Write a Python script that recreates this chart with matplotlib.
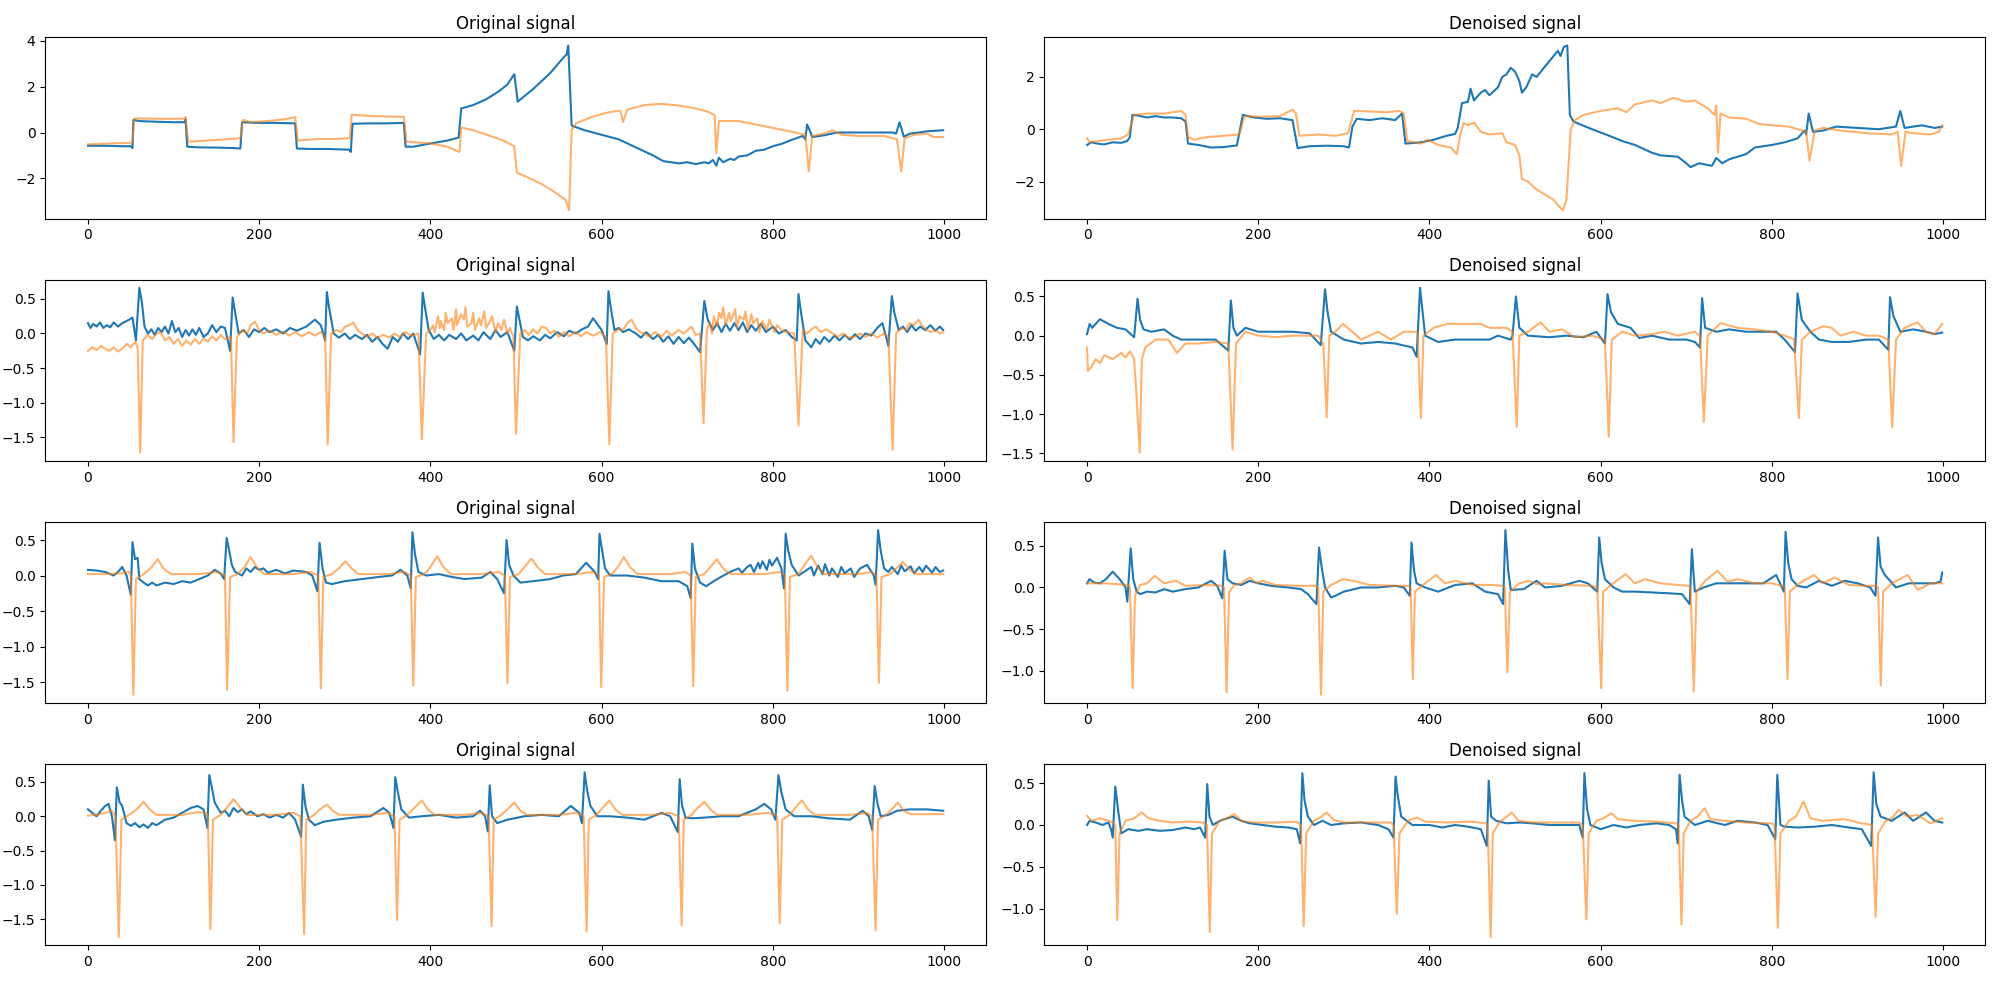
import matplotlib.pyplot as plt

# waypoints (x, y), one list per trace
orig1_blue = [(0,-0.58),(20,-0.58),(40,-0.6),(50,-0.6),(52,-0.68),(53,0.55),(60,0.5),(80,0.47),(100,0.45),(113,0.45),(114,0.58),(116,-0.62),(130,-0.65),(150,-0.66),(170,-0.68),(178,-0.7),(180,0.45),(200,0.42),(220,0.42),(242,0.4),(244,-0.7),(260,-0.72),(280,-0.72),(305,-0.75),(307,-0.85),(309,0.38),(330,0.4),(350,0.4),(369,0.42),(371,-0.62),(380,-0.62),(400,-0.48),(420,-0.35),(433,-0.22),(436,1.05),(450,1.2),(465,1.45),(480,1.8),(490,2.1),(498,2.55),(502,1.35),(520,1.9),(540,2.6),(556,3.3),(559,3.4),(561,3.8),(565,0.3),(580,0.1),(600,-0.1),(620,-0.3),(640,-0.65),(660,-1.0),(672,-1.25),(690,-1.35),(700,-1.3),(710,-1.38),(720,-1.3),(725,-1.35),(730,-1.2),(734,-1.45),(737,-1.1),(742,-1.3),(750,-1.15),(755,-1.2),(760,-1.05),(770,-1.0),(780,-0.8),(790,-0.75),(800,-0.6),(810,-0.5),(820,-0.35),(835,-0.15),(838,-0.3),(840,0.35),(843,0.1),(846,-0.2),(860,-0.12),(875,0.0),(900,0.0),(920,0.0),(940,0.0),(944,-0.05),(948,0.45),(950,0.2),(953,-0.18),(960,-0.05),(980,0.05),(999,0.1)]
orig1_orange = [(0,-0.52),(25,-0.48),(50,-0.45),(52,-0.42),(54,0.62),(80,0.6),(112,0.6),(114,0.68),(117,-0.4),(140,-0.35),(160,-0.3),(178,-0.25),(181,0.55),(190,0.45),(210,0.5),(230,0.58),(242,0.67),(245,-0.35),(270,-0.28),(290,-0.28),(306,-0.25),(308,0.78),(330,0.72),(350,0.7),(369,0.68),(372,-0.4),(400,-0.48),(420,-0.62),(434,-0.85),(436,0.22),(450,0.1),(470,-0.15),(485,-0.35),(498,-0.6),(501,-1.75),(510,-1.9),(530,-2.25),(545,-2.6),(558,-2.95),(562,-3.4),(565,0.1),(570,0.4),(590,0.7),(610,0.9),(622,0.95),(625,0.45),(630,1.0),(650,1.2),(670,1.25),(690,1.18),(710,1.05),(725,0.9),(732,0.75),(734,-0.9),(737,0.5),(760,0.5),(780,0.35),(800,0.2),(820,0.05),(838,-0.1),(842,-1.7),(846,-0.15),(860,-0.05),(870,0.1),(880,-0.1),(900,-0.15),(930,-0.15),(945,-0.3),(950,-1.7),(954,-0.25),(965,-0.1),(980,-0.05),(988,-0.2),(999,-0.2)]

den1_blue = [(0,-0.6),(5,-0.5),(12,-0.55),(20,-0.58),(30,-0.5),(40,-0.52),(47,-0.45),(50,-0.3),(53,0.55),(60,0.52),(70,0.45),(80,0.5),(90,0.45),(100,0.45),(110,0.42),(115,0.3),(118,-0.55),(130,-0.6),(145,-0.7),(160,-0.68),(175,-0.62),(182,0.55),(195,0.45),(210,0.4),(225,0.42),(240,0.35),(246,-0.72),(260,-0.65),(280,-0.63),(300,-0.65),(306,-0.7),(310,0.1),(315,0.4),(330,0.35),(345,0.42),(360,0.35),(368,0.6),(372,-0.55),(390,-0.5),(405,-0.4),(420,-0.25),(430,-0.18),(433,0.05),(438,1.0),(445,1.05),(448,1.55),(452,1.1),(460,1.4),(465,1.5),(470,1.3),(480,1.6),(485,2.0),(490,2.1),(495,2.35),(500,2.2),(505,1.85),(508,1.4),(513,1.6),(520,2.1),(525,2.0),(535,2.4),(545,2.8),(550,3.0),(553,2.8),(557,3.15),(561,3.2),(564,0.55),(568,0.3),(575,0.2),(590,0.0),(610,-0.25),(625,-0.45),(640,-0.6),(660,-0.9),(670,-1.0),(690,-1.05),(700,-1.3),(705,-1.45),(715,-1.3),(730,-1.4),(735,-1.1),(742,-1.3),(750,-1.15),(770,-0.95),(780,-0.7),(800,-0.6),(815,-0.5),(830,-0.35),(838,-0.05),(840,-0.2),(843,0.6),(848,-0.1),(860,-0.05),(875,0.1),(900,0.05),(925,0.0),(945,0.1),(950,0.7),(955,0.05),(965,0.1),(975,0.15),(990,0.05),(999,0.1)]
den1_orange = [(0,-0.35),(3,-0.5),(20,-0.42),(40,-0.35),(48,-0.2),(55,0.55),(70,0.6),(90,0.6),(110,0.7),(115,0.55),(118,-0.3),(125,-0.4),(140,-0.3),(160,-0.25),(178,-0.2),(184,0.5),(200,0.48),(225,0.5),(240,0.75),(244,0.6),(248,-0.25),(270,-0.2),(290,-0.25),(305,-0.15),(312,0.7),(330,0.68),(350,0.65),(365,0.7),(370,0.6),(374,-0.45),(390,-0.55),(398,-0.4),(410,-0.6),(425,-0.7),(432,-0.95),(436,-0.2),(440,0.25),(445,0.15),(452,0.25),(460,-0.1),(470,-0.2),(485,-0.15),(490,-0.5),(500,-0.6),(505,-1.0),(508,-1.9),(515,-2.0),(525,-2.3),(535,-2.5),(545,-2.7),(550,-2.9),(556,-3.1),(560,-2.7),(565,0.0),(570,0.35),(580,0.55),(600,0.7),(620,0.8),(630,0.65),(640,0.95),(660,1.1),(670,1.0),(685,1.2),(700,1.05),(710,1.1),(725,0.8),(733,0.55),(735,0.9),(737,-0.9),(740,0.6),(750,0.45),(770,0.4),(785,0.2),(800,0.15),(820,0.1),(830,0.0),(840,-0.1),(844,-1.2),(850,-0.05),(860,0.05),(880,-0.05),(910,-0.15),(940,-0.2),(947,-0.1),(951,-1.4),(956,-0.1),(965,-0.15),(985,-0.2),(995,-0.1),(999,0.15)]

orig2_blue = [(0,0.15),(3,0.08),(6,0.14),(10,0.1),(14,0.16),(18,0.08),(22,0.12),(26,0.09),(30,0.16),(35,0.1),(40,0.15),(45,0.18),(48,0.2),(52,0.23),(56,-0.1),(60,0.66),(63,0.45),(66,0.1),(70,0.0),(74,0.06),(78,-0.02),(82,0.08),(86,0.02),(90,0.1),(94,0.0),(98,0.18),(102,0.02),(106,0.08),(110,-0.05),(114,0.05),(118,-0.03),(122,0.06),(126,-0.02),(130,0.08),(135,-0.05),(140,0.0),(145,0.12),(150,0.02),(155,0.1),(160,0.08),(166,-0.25),(169,0.52),(172,0.3),(176,0.0),(182,0.05),(188,-0.05),(194,0.06),(200,0.02),(206,0.08),(212,0.02),(220,0.06),(228,0.0),(236,0.08),(244,0.04),(255,0.1),(265,0.2),(272,0.12),(277,-0.1),(279,0.6),(282,0.35),(287,0.0),(293,-0.06),(300,0.0),(306,-0.08),(312,-0.02),(320,-0.08),(326,-0.02),(332,-0.12),(338,-0.05),(344,-0.15),(350,-0.22),(356,-0.05),(362,-0.12),(368,0.0),(374,-0.08),(380,0.0),(388,-0.3),(391,0.59),(394,0.35),(398,0.05),(404,-0.08),(410,-0.02),(416,-0.1),(422,-0.02),(430,-0.08),(436,0.0),(442,-0.1),(450,-0.03),(456,-0.1),(462,0.02),(470,-0.08),(476,0.05),(482,-0.05),(490,0.02),(498,-0.25),(501,0.39),(504,0.2),(508,-0.05),(514,-0.1),(520,-0.04),(528,-0.1),(534,-0.02),(540,-0.07),(548,0.02),(556,-0.04),(562,0.04),(570,0.0),(577,0.06),(584,0.1),(590,0.22),(600,0.05),(606,-0.15),(608,0.61),(611,0.35),(615,0.05),(620,0.08),(625,0.02),(632,0.06),(640,0.0),(646,-0.06),(652,0.02),(660,-0.08),(666,-0.02),(672,-0.12),(678,-0.04),(684,-0.15),(690,-0.05),(696,-0.14),(702,-0.06),(708,-0.15),(715,-0.27),(720,0.47),(724,0.2),(730,0.05),(735,0.15),(740,0.02),(745,0.14),(750,0.04),(755,0.15),(760,0.05),(765,0.16),(770,0.02),(775,0.12),(780,0.04),(786,0.14),(792,0.02),(800,0.1),(807,0.0),(815,0.05),(822,-0.05),(828,-0.1),(830,0.57),(833,0.3),(838,-0.1),(845,-0.2),(850,-0.08),(855,-0.15),(860,-0.05),(866,-0.12),(872,-0.03),(878,-0.1),(884,-0.02),(890,-0.09),(896,-0.01),(902,-0.08),(908,0.0),(915,-0.03),(922,0.08),(928,0.15),(935,-0.18),(939,0.54),(942,0.3),(947,0.05),(952,0.1),(957,0.02),(962,0.12),(967,0.04),(972,0.1),(978,0.05),(984,0.12),(990,0.04),(995,0.1),(999,0.05)]
orig2_orange = [(0,-0.25),(5,-0.2),(10,-0.24),(15,-0.18),(20,-0.22),(25,-0.25),(30,-0.2),(35,-0.26),(40,-0.22),(45,-0.15),(50,-0.2),(55,-0.12),(58,-0.2),(61,-1.72),(64,-0.1),(70,-0.02),(75,-0.08),(80,0.0),(85,0.02),(90,-0.1),(95,-0.05),(100,-0.15),(105,-0.08),(110,-0.18),(115,-0.1),(120,-0.16),(125,-0.08),(130,-0.15),(135,-0.07),(140,-0.12),(145,-0.04),(150,-0.1),(155,-0.02),(160,-0.08),(167,-0.05),(170,-1.57),(174,-0.05),(180,0.05),(186,0.0),(190,0.12),(195,0.17),(200,0.05),(205,0.0),(212,0.04),(220,-0.02),(228,0.03),(235,-0.03),(242,0.02),(250,-0.04),(258,0.02),(265,-0.03),(272,0.02),(277,-0.05),(280,-1.6),(284,0.0),(290,0.05),(296,0.02),(300,0.1),(305,0.12),(310,0.16),(315,0.05),(320,0.0),(326,-0.05),(332,0.0),(338,-0.06),(345,-0.02),(352,-0.06),(358,0.0),(364,-0.05),(370,0.02),(378,-0.03),(386,0.0),(390,-1.53),(395,0.0),(400,0.05),(403,0.12),(405,0.02),(409,0.25),(411,0.08),(412,0.18),(416,0.05),(418,0.3),(420,0.15),(425,0.22),(427,0.05),(430,0.35),(431,0.12),(436,0.28),(439,0.2),(441,0.38),(443,0.1),(448,0.15),(450,0.3),(452,0.05),(457,0.22),(459,0.12),(463,0.32),(465,0.08),(470,0.18),(472,0.25),(476,0.02),(479,0.15),(483,0.05),(486,0.2),(490,0.0),(493,0.08),(497,-0.05),(500,-1.45),(505,0.0),(510,0.05),(515,-0.02),(520,0.06),(525,0.0),(530,0.1),(535,0.08),(540,0.0),(545,0.04),(550,-0.05),(556,0.02),(562,-0.04),(570,0.02),(576,-0.04),(582,0.02),(590,-0.03),(598,0.02),(605,-0.05),(609,-1.6),(613,0.0),(620,0.06),(625,0.05),(630,0.15),(635,0.2),(640,0.08),(645,0.02),(650,0.0),(656,-0.05),(662,0.02),(670,-0.05),(676,0.04),(682,-0.03),(690,0.05),(696,0.0),(705,0.1),(710,-0.02),(715,0.0),(719,-1.3),(723,0.05),(726,0.15),(729,0.0),(731,0.25),(735,0.1),(737,0.3),(740,0.22),(742,0.38),(745,0.12),(749,0.3),(751,0.18),(756,0.35),(758,0.08),(761,0.25),(766,0.2),(768,0.32),(771,0.05),(775,0.28),(777,0.15),(782,0.22),(784,0.02),(788,0.18),(793,0.05),(796,0.2),(802,0.02),(805,0.12),(810,0.05),(817,0.02),(825,0.0),(830,-1.33),(835,0.05),(840,0.0),(845,0.06),(850,0.1),(856,0.02),(862,0.06),(870,0.0),(876,-0.05),(882,0.0),(888,-0.06),(895,-0.05),(902,0.0),(908,-0.05),(915,0.0),(922,-0.06),(930,0.0),(935,-0.05),(940,-1.68),(944,0.0),(950,0.08),(955,0.05),(960,0.15),(965,0.12),(970,0.2),(975,0.1),(980,0.05),(985,0.02),(990,0.05),(995,0.0),(999,0.02)]

den2_blue = [(0,0.02),(3,0.15),(6,0.1),(15,0.21),(25,0.15),(35,0.1),(45,0.08),(55,-0.02),(59,0.47),(62,0.2),(66,0.08),(75,0.05),(90,0.08),(100,0.0),(110,-0.05),(130,-0.05),(150,-0.05),(165,-0.19),(168,0.45),(171,0.1),(175,0.0),(185,0.1),(200,0.05),(220,0.05),(240,0.05),(260,0.03),(273,-0.12),(278,0.59),(281,0.3),(285,0.05),(300,-0.05),(320,-0.1),(340,-0.08),(360,-0.1),(380,-0.15),(385,-0.27),(389,0.61),(392,0.3),(395,0.0),(410,-0.08),(430,-0.05),(450,-0.05),(470,-0.05),(480,0.0),(495,-0.05),(497,0.0),(501,0.5),(505,0.1),(515,0.0),(540,-0.02),(560,0.0),(580,-0.02),(595,0.05),(605,-0.1),(608,0.53),(612,0.3),(620,0.15),(635,0.1),(645,-0.03),(660,0.0),(680,-0.05),(700,-0.05),(710,-0.08),(716,-0.15),(718.5,0.48),(722,0.1),(735,0.05),(750,0.08),(770,0.05),(790,0.05),(805,0.05),(815,-0.05),(827,-0.21),(830,0.54),(835,0.2),(845,0.05),(855,-0.05),(870,-0.08),(890,-0.08),(910,-0.05),(925,-0.05),(936,-0.18),(938,0.49),(942,0.25),(950,0.05),(965,0.08),(980,0.05),(990,0.02),(999,0.04)]
den2_orange = [(0,-0.15),(1,-0.45),(5,-0.4),(10,-0.3),(15,-0.35),(20,-0.25),(30,-0.3),(40,-0.22),(45,-0.28),(50,-0.2),(55,-0.3),(58,-0.8),(61.5,-1.49),(64,-0.3),(68,-0.15),(80,-0.05),(95,-0.05),(105,-0.22),(115,-0.1),(130,-0.1),(150,-0.08),(165,-0.1),(170,-1.45),(174,-0.1),(185,0.05),(200,0.0),(220,-0.02),(240,0.0),(270,0.0),(276,-0.1),(280,-1.04),(283,0.0),(290,0.05),(299,0.15),(310,0.05),(320,-0.05),(340,0.05),(355,-0.05),(370,0.05),(386,0.05),(390,-1.05),(393,0.0),(405,0.1),(420,0.15),(440,0.15),(460,0.15),(470,0.1),(490,0.1),(497,0.05),(502,-1.16),(505,0.0),(515,0.05),(530,0.17),(540,0.05),(555,0.08),(570,-0.02),(590,0.0),(605,-0.05),(609.5,-1.29),(613,-0.05),(625,0.05),(640,0.0),(660,0.02),(675,0.05),(690,0.0),(710,0.05),(716,0.0),(720.5,-1.1),(725,0.0),(740,0.16),(760,0.1),(780,0.08),(800,0.05),(815,0.0),(826,-0.05),(831.5,-1.05),(835,-0.05),(845,0.05),(860,0.12),(870,0.1),(880,0.0),(895,0.05),(910,0.0),(925,0.0),(936,-0.05),(940.5,-1.17),(945,-0.05),(955,0.1),(970,0.17),(980,0.05),(990,0.02),(999,0.15)]

orig3_blue = [(0,0.08),(10,0.07),(20,0.05),(30,0.0),(35,0.05),(40,0.12),(45,0.0),(50,-0.27),(52,0.47),(55,0.23),(58,0.25),(60,-0.05),(65,-0.1),(70,-0.14),(75,-0.1),(80,-0.14),(90,-0.1),(100,-0.12),(110,-0.08),(120,-0.1),(130,-0.05),(140,0.0),(148,0.08),(155,0.03),(159,-0.05),(162,0.53),(165,0.35),(168,0.15),(172,0.05),(180,0.0),(185,0.1),(190,0.05),(195,0.12),(200,0.08),(205,0.1),(210,0.04),(220,0.08),(230,0.03),(240,0.07),(255,0.05),(262,0.0),(268,-0.22),(270.5,0.46),(274,0.1),(278,-0.1),(285,-0.12),(300,-0.08),(320,-0.05),(340,-0.02),(355,0.0),(365,0.08),(373,0.0),(377,-0.18),(379,0.61),(382,0.3),(386,0.05),(395,0.0),(410,0.02),(425,-0.02),(440,-0.05),(460,-0.03),(470,0.05),(478,-0.05),(486,-0.25),(489,0.5),(492,0.15),(497,0.0),(505,-0.1),(520,-0.08),(540,-0.05),(555,0.0),(570,0.02),(582,0.18),(592,0.05),(596,-0.05),(597.5,0.59),(601,0.33),(604,0.1),(610,0.0),(630,0.0),(650,-0.03),(670,-0.08),(690,-0.08),(700,-0.15),(704,-0.32),(706,0.45),(709,0.1),(715,-0.1),(722,-0.15),(735,-0.05),(750,0.05),(760,0.1),(764,0.04),(770,0.12),(774,0.15),(778,0.05),(783,0.18),(785,0.1),(788,0.2),(793,0.08),(796,0.22),(799,0.14),(805,0.25),(810,0.1),(813,-0.18),(815,0.59),(818,0.35),(822,0.15),(830,0.0),(840,0.08),(845,0.12),(848,0.0),(853,0.14),(858,0.02),(861,0.16),(866,0.0),(869,0.1),(876,-0.02),(880,0.12),(884,0.03),(891,0.1),(895,-0.02),(902,0.1),(910,0.15),(918,0.0),(920,-0.13),(923,0.64),(926,0.35),(930,0.1),(935,0.05),(939,0.12),(946,0.02),(950,0.14),(954,0.06),(961,0.13),(965,0.03),(971,0.12),(975,0.05),(979,0.14),(986,0.04),(990,0.12),(995,0.05),(999,0.07)]
orig3_orange = [(0,0.02),(20,0.02),(40,0.03),(48,0.05),(50,0.0),(53,-1.68),(56,-0.05),(65,0.02),(73,0.1),(81.5,0.23),(88,0.1),(97,0.02),(130,0.02),(150,0.05),(160,0.0),(162.5,-1.61),(166,-0.02),(175,0.02),(183,0.12),(190,0.26),(197,0.12),(206,0.02),(240,0.02),(260,0.05),(269,0.0),(272,-1.59),(275,-0.02),(285,0.02),(293,0.1),(300.5,0.2),(308,0.1),(316,0.02),(350,0.02),(370,0.05),(377,0.0),(380,-1.55),(383,-0.02),(393,0.02),(400,0.12),(408,0.27),(415,0.12),(424,0.02),(460,0.02),(480,0.05),(487,0.0),(490,-1.52),(493,-0.02),(503,0.02),(510,0.12),(518,0.24),(525,0.12),(534,0.02),(570,0.02),(590,0.05),(597,0.0),(599.5,-1.57),(603,-0.02),(612,0.02),(619,0.12),(626,0.26),(633,0.12),(642,0.02),(680,0.02),(698,0.05),(704,0.0),(707,-1.56),(710,-0.02),(720,0.02),(727,0.12),(734.5,0.23),(742,0.1),(750,0.02),(790,0.02),(808,0.05),(814,0.0),(817,-1.62),(820,-0.02),(830,0.02),(837,0.15),(845,0.28),(852,0.12),(860,0.02),(900,0.02),(915,0.05),(921,0.0),(924,-1.51),(927,-0.02),(937,0.02),(944,0.1),(952,0.19),(960,0.08),(968,0.02),(999,0.02)]

den3_blue = [(0,0.05),(3,0.1),(8,0.06),(15,0.05),(22,0.1),(30,0.19),(38,0.1),(45,0.0),(47,-0.17),(51,0.47),(54,0.1),(58,-0.05),(62,-0.08),(70,-0.05),(80,-0.06),(90,-0.02),(100,-0.05),(115,-0.02),(130,0.0),(145,0.08),(152,0.02),(158,-0.13),(160.7,0.44),(164,0.1),(170,0.05),(180,0.03),(190,0.08),(200,0.05),(215,0.02),(235,0.0),(250,-0.02),(258,-0.08),(268,-0.2),(271,0.48),(274,0.25),(278,0.0),(285,-0.12),(290,-0.1),(300,-0.05),(320,0.0),(340,0.0),(360,0.02),(370,0.0),(377,-0.1),(379,0.54),(382,0.2),(385,0.05),(395,0.0),(410,-0.05),(430,0.03),(450,0.05),(465,-0.05),(480,-0.08),(486,-0.2),(488.7,0.69),(492,0.2),(495,-0.03),(510,-0.02),(525,0.08),(535,0.0),(555,0.02),(575,0.08),(585,0.05),(596,-0.05),(598.3,0.6),(601,0.3),(605,0.1),(615,0.0),(625,-0.05),(640,-0.05),(660,-0.06),(680,-0.07),(695,-0.08),(704,-0.2),(706.5,0.46),(710,-0.05),(720,0.0),(735,0.05),(750,0.05),(770,0.05),(790,0.05),(805,0.15),(814,-0.05),(816,0.67),(819,0.3),(823,0.1),(830,0.02),(840,0.0),(855,0.08),(870,0.02),(885,0.08),(900,0.05),(915,0.0),(921,-0.1),(924,0.6),(927,0.25),(932,0.15),(945,0.0),(960,0.05),(975,0.05),(990,0.05),(997,0.07),(999,0.18)]
den3_orange = [(0,0.05),(10,0.05),(20,0.05),(35,0.04),(48,0.03),(50,0.0),(53.3,-1.21),(56,-0.1),(62,0.03),(70,0.05),(79,0.14),(90,0.05),(104,0.08),(115,0.02),(140,0.03),(158,0.02),(160,0.0),(163,-1.26),(166,-0.05),(172,0.03),(180,0.05),(190,0.12),(198,0.05),(205,0.08),(220,0.03),(250,0.02),(268,0.02),(270,0.0),(273.3,-1.29),(276,-0.05),(285,0.03),(299,0.1),(311,0.08),(330,0.03),(360,0.02),(376,0.02),(378,0.0),(380.6,-1.1),(383,-0.05),(395,0.05),(407.6,0.15),(418,0.05),(430,0.08),(450,0.03),(475,0.03),(485,0.02),(488,0.0),(491,-1.02),(494,-0.05),(505,0.05),(516.5,0.08),(525,0.04),(535,0.05),(560,0.03),(590,0.02),(596,0.0),(600.6,-1.21),(603,-0.05),(612,0.03),(629,0.16),(640,0.05),(652,0.1),(670,0.05),(690,0.03),(703,0.02),(705,0.0),(708.7,-1.25),(712,-0.05),(722,0.08),(736.5,0.2),(748,0.07),(760,0.1),(780,0.05),(800,0.05),(812,0.02),(815,0.0),(818.3,-1.1),(821,-0.05),(832,0.05),(849,0.15),(860,0.05),(873,0.12),(890,0.03),(910,0.02),(922,0.02),(924,0.0),(927.2,-1.18),(930,-0.05),(940,0.05),(958.7,0.15),(965,0.05),(970.7,-0.03),(985,0.05),(999,0.05)]

orig4_blue = [(0,0.1),(5,0.05),(10,0.0),(15,0.08),(20,0.15),(24,0.18),(28,0.0),(31.5,-0.35),(33.7,0.42),(37,0.2),(40,0.15),(45,-0.1),(50,-0.14),(55,-0.1),(60,-0.16),(65,-0.12),(70,-0.17),(75,-0.1),(80,-0.13),(90,-0.05),(100,-0.02),(110,0.05),(120,0.12),(128,0.15),(135,0.1),(139.5,-0.17),(141.7,0.6),(145,0.4),(148,0.2),(155,0.05),(160,0.08),(165,0.0),(170,0.12),(175,0.06),(180,0.1),(185,0.03),(190,0.07),(198,0.0),(205,0.03),(212,-0.02),(220,0.02),(228,-0.02),(235,0.05),(242,-0.05),(249,-0.3),(251,0.46),(254,0.15),(258,-0.05),(265,-0.13),(275,-0.08),(290,-0.05),(310,-0.02),(330,0.0),(345,0.12),(352,0.05),(356.8,-0.17),(359,0.57),(362,0.35),(366,0.1),(375,-0.02),(390,0.0),(410,0.02),(430,-0.02),(450,0.0),(458,0.08),(464,0.0),(467,-0.22),(469.3,0.45),(472,0.0),(478,-0.1),(490,-0.05),(510,0.0),(530,0.02),(550,0.0),(564,0.15),(574,0.05),(577,-0.1),(580.2,0.64),(583,0.38),(587,0.15),(595,0.0),(610,0.0),(630,-0.02),(650,-0.05),(670,0.05),(680,0.0),(689,-0.23),(691.2,0.54),(694,0.15),(698,-0.02),(705,-0.03),(720,-0.02),(740,0.0),(760,0.0),(780,0.1),(790,0.18),(798,0.1),(803,-0.05),(806.6,0.6),(810,0.35),(815,0.1),(825,0.0),(845,0.0),(865,-0.03),(890,-0.05),(905,0.08),(912,0.0),(916,-0.2),(919,0.44),(922,0.2),(926,0.0),(935,0.02),(945,0.08),(960,0.1),(980,0.1),(999,0.08)]
orig4_orange = [(0,0.01),(10,0.02),(20,0.05),(28,0.08),(32,0.0),(36,-1.76),(39,-0.05),(48,0.02),(57,0.1),(65,0.21),(72,0.1),(80,0.02),(110,0.02),(128,0.06),(138,0.05),(140,0.0),(143,-1.64),(146,-0.05),(155,0.02),(162,0.12),(170,0.25),(178,0.12),(186,0.02),(220,0.02),(240,0.05),(248,0.0),(252.5,-1.72),(255,-0.05),(264,0.02),(271,0.1),(279,0.17),(286,0.08),(294,0.02),(330,0.02),(350,0.05),(358,0.0),(361,-1.51),(364,-0.05),(373,0.02),(381,0.12),(390,0.23),(397,0.1),(405,0.02),(440,0.02),(460,0.05),(468,0.0),(471.5,-1.6),(474,-0.05),(483,0.02),(490,0.1),(498,0.2),(505,0.08),(513,0.02),(550,0.02),(570,0.05),(579,0.0),(582.5,-1.68),(585,-0.05),(594,0.02),(601,0.12),(609,0.23),(616,0.1),(624,0.02),(660,0.02),(680,0.05),(690,0.0),(693.5,-1.59),(696,-0.05),(705,0.02),(712,0.12),(720,0.21),(727,0.1),(735,0.02),(770,0.02),(795,0.05),(805,0.0),(808,-1.56),(811,-0.05),(820,0.02),(826,0.12),(834,0.23),(841,0.1),(849,0.02),(890,0.02),(910,0.05),(916,0.0),(920,-1.66),(923,-0.05),(932,0.02),(939,0.1),(946,0.2),(953,0.08),(961,0.03),(999,0.03)]

den4_blue = [(0,0.0),(3,0.05),(10,0.03),(18,0.0),(25,0.03),(28,-0.05),(30,-0.15),(33,0.46),(36,0.2),(40,-0.1),(48,-0.05),(60,-0.07),(70,-0.05),(85,-0.07),(100,-0.06),(115,-0.03),(125,-0.05),(132,-0.03),(138,-0.15),(140.4,0.49),(143,0.1),(147,0.0),(155,0.05),(170,0.1),(180,0.05),(190,0.02),(205,0.0),(220,-0.02),(235,-0.03),(245,-0.05),(249,-0.22),(251.5,0.62),(254,0.3),(258,0.1),(265,0.0),(275,0.05),(285,0.0),(300,0.02),(320,0.03),(340,0.0),(352,-0.05),(358,-0.15),(360.4,0.58),(363,0.35),(367,0.1),(380,0.0),(400,0.0),(415,-0.03),(430,0.0),(445,-0.02),(460,-0.05),(467,-0.25),(469.2,0.53),(472,0.1),(478,0.05),(490,0.02),(505,0.03),(520,0.02),(540,0.0),(560,0.0),(575,0.0),(579,-0.15),(581,0.62),(584,0.2),(588,0.0),(600,-0.05),(615,0.0),(630,-0.03),(645,0.0),(665,0.02),(680,0.0),(688,-0.05),(690,-0.22),(692.2,0.6),(695,0.3),(698,0.1),(710,0.0),(725,0.05),(745,0.0),(760,0.05),(780,0.03),(795,0.0),(804,-0.17),(806.3,0.6),(810,0.0),(815,-0.02),(830,-0.03),(850,-0.02),(870,0.0),(890,-0.03),(905,-0.05),(916,-0.25),(918.9,0.63),(922,0.25),(927,0.1),(940,0.05),(955,0.15),(965,0.05),(980,0.15),(990,0.05),(999,0.03)]
den4_orange = [(0,0.11),(5,0.05),(15,0.08),(25,0.05),(31,0.03),(33,0.0),(35.3,-1.14),(38,-0.1),(45,0.05),(55,0.08),(63.8,0.15),(72,0.08),(85,0.05),(100,0.03),(120,0.04),(135,0.03),(140,0.0),(143.4,-1.28),(146,-0.1),(155,0.05),(163,0.08),(172,0.13),(180,0.05),(195,0.03),(220,0.03),(245,0.04),(250,0.0),(253,-1.21),(256,-0.1),(265,0.05),(271,0.08),(280,0.15),(288,0.06),(300,0.03),(330,0.03),(355,0.03),(358,0.0),(361.9,-1.06),(365,-0.1),(375,0.05),(385,0.09),(395,0.04),(420,0.03),(450,0.04),(466,0.02),(468,0.0),(471.5,-1.34),(474,-0.1),(483,0.05),(488,0.08),(496,0.15),(504,0.05),(520,0.03),(550,0.03),(575,0.03),(579,0.0),(583.3,-1.13),(586,-0.1),(595,0.05),(603,0.08),(612.6,0.14),(620,0.07),(640,0.05),(665,0.04),(688,0.02),(691,0.0),(694.4,-1.19),(697,-0.1),(705,0.05),(713,0.1),(721.5,0.2),(728,0.07),(745,0.05),(770,0.03),(800,0.02),(803,0.0),(807,-1.23),(810,-0.1),(820,0.05),(828,0.1),(837,0.28),(845,0.08),(860,0.05),(885,0.07),(905,0.02),(917,0.0),(921.2,-1.1),(924,-0.1),(933,0.05),(940,0.08),(948,0.18),(958,0.1),(970,0.12),(985,0.02),(999,0.08)]

rows = [
    (orig1_blue, orig1_orange, den1_blue, den1_orange),
    (orig2_blue, orig2_orange, den2_blue, den2_orange),
    (orig3_blue, orig3_orange, den3_blue, den3_orange),
    (orig4_blue, orig4_orange, den4_blue, den4_orange),
]


def draw(ax, blue, orange, title):
    bx, by = zip(*blue)
    ox, oy = zip(*orange)
    ax.plot(bx, by, color='#1f77b4')
    ax.plot(ox, oy, color='#ff7f0e', alpha=0.6)
    ax.set_title(title)


fig, axes = plt.subplots(4, 2, figsize=(20, 9.84), dpi=100)
for i, (ob, oo, db, do) in enumerate(rows):
    draw(axes[i, 0], ob, oo, 'Original signal')
    draw(axes[i, 1], db, do, 'Denoised signal')

plt.tight_layout()
plt.savefig('out.png')
